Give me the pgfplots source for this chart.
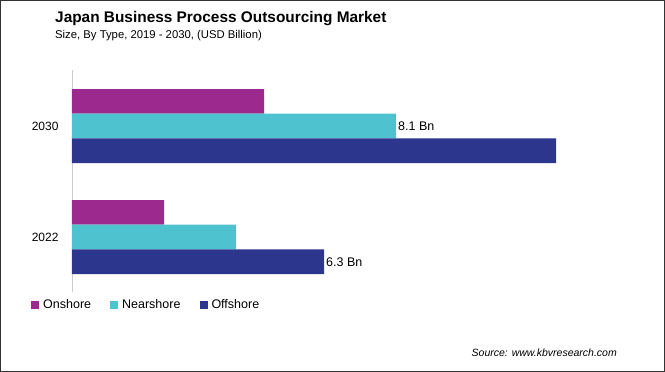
\documentclass[border=0pt]{standalone}
\usepackage{pgfplots}
\pgfplotsset{compat=1.18}
\usepackage{fontspec}
\setmainfont{Liberation Sans}
\definecolor{onshore}{HTML}{9C2A8E}
\definecolor{nearshore}{HTML}{4EC3CF}
\definecolor{offshore}{HTML}{2B368C}
\definecolor{framec}{HTML}{333333}
\begin{document}
\begin{tikzpicture}
\draw[framec, line width=1pt] (0.5pt,-0.5pt) rectangle (664.5pt,-371.5pt);
\node[anchor=base west, inner sep=0pt, font=\fontsize{15.4}{18}\selectfont\bfseries] at (55pt,-22pt) {Japan Business Process Outsourcing Market};
\node[anchor=base west, inner sep=0pt, font=\fontsize{11.3}{13}\selectfont] at (55pt,-38pt) {Size, By Type, 2019 - 2030, (USD Billion)};
\node[anchor=base east, inner sep=0pt, font=\fontsize{10.5}{12}\selectfont\itshape] at (617pt,-356pt) {Source: www.kbvresearch.com};
\begin{axis}[
  at={(72pt,-292pt)}, anchor=south west,
  scale only axis, width=560pt, height=222pt,
  xbar, bar width=24.7pt,
  xmin=0, xmax=14, ymin=-0.495, ymax=1.505,
  hide x axis,
  axis y line*=left,
  y axis line style={draw=gray!40, line width=0.8pt},
  ytick={0,1}, yticklabels={2022,2030},
  major tick length=0pt,
  yticklabel style={font=\fontsize{12}{14}\selectfont, xshift=-10pt},
  point meta=explicit symbolic,
  nodes near coords,
  every node near coord/.append style={font=\fontsize{12.5}{14}\selectfont, text=black, anchor=west, inner sep=2pt},
  legend columns=3,
  legend style={draw=none, fill=none, at={(axis description cs:0,0)}, anchor=west, xshift=-44pt, yshift=-13pt,
    font=\fontsize{12.5}{14}\selectfont,
    /tikz/every odd column/.append style={column sep=2pt},
    /tikz/every even column/.append style={column sep=17pt}},
  legend image code/.code={\fill[#1] (0pt,-4pt) rectangle (8pt,4pt);},
]
\addplot[draw=none, fill=onshore, bar shift=24.7pt] coordinates {(2.3,0) [] (4.8,1) []};
\addplot[draw=none, fill=nearshore, bar shift=0pt] coordinates {(4.1,0) [] (8.1,1) [8.1 Bn]};
\addplot[draw=none, fill=offshore, bar shift=-24.7pt] coordinates {(6.3,0) [6.3 Bn] (12.1,1) []};
\legend{Onshore, Nearshore, Offshore}
\end{axis}
\end{tikzpicture}
\end{document}
